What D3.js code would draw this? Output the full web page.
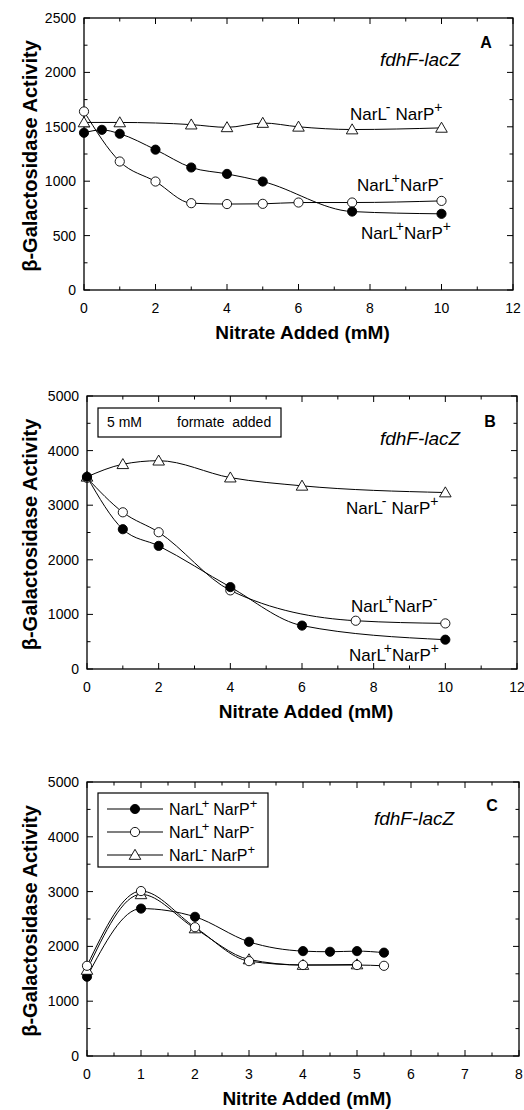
<!DOCTYPE html>
<html>
<head>
<meta charset="utf-8">
<script src="https://cdn.jsdelivr.net/npm/d3@7"></script>
<style>
  body { margin: 0; background: #fff; }
  svg { display: block; font-family: "Liberation Sans", Arial, sans-serif; }
</style>
</head>
<body>
<svg id="chart" width="524" height="1110"></svg>
<script>
// ---- panel A: nitrate, no formate ----
const aTriX = [0, 1, 3, 4, 5, 6, 7.5, 10];
const aTriY = [1540, 1540, 1520, 1495, 1535, 1500, 1475, 1490];
const aFillX = [0, 0.5, 1, 2, 3, 4, 5, 7.5, 10];
const aFillY = [1445, 1472, 1436, 1290, 1126, 1067, 997, 721, 700];
const aOpenX = [0, 1, 2, 3, 4, 5, 6, 7.5, 10];
const aOpenY = [1641, 1181, 997, 798, 790, 792, 804, 804, 819];

// ---- panel B: nitrate + 5 mM formate ----
const bTriX = [0, 1, 2, 4, 6, 10];
const bTriY = [3520, 3750, 3815, 3505, 3355, 3232];
const bOpenX = [0, 1, 2, 4, 7.5, 10];
const bOpenY = [3500, 2870, 2505, 1440, 884, 835];
const bFillX = [0, 1, 2, 4, 6, 10];
const bFillY = [3520, 2560, 2255, 1500, 795, 537];

// ---- panel C: nitrite ----
const cFillX = [0, 1, 2, 3, 4, 4.5, 5, 5.5];
const cFillY = [1446, 2690, 2540, 2084, 1914, 1902, 1914, 1886];
const cOpenX = [0, 1, 2, 3, 4, 5, 5.5];
const cOpenY = [1646, 3010, 2350, 1731, 1660, 1660, 1646];
const cTriX = [0, 1, 2, 3, 4, 5];
const cTriY = [1570, 2950, 2327, 1762, 1660, 1670];

const aXTicks = [0, 2, 4, 6, 8, 10, 12];
const aYTicks = [0, 500, 1000, 1500, 2000, 2500];
const bXTicks = [0, 2, 4, 6, 8, 10, 12];
const bYTicks = [0, 1000, 2000, 3000, 4000, 5000];
const cXTicks = [0, 1, 2, 3, 4, 5, 6, 7, 8];
const cYTicks = [0, 1000, 2000, 3000, 4000, 5000];

const svg = d3.select("#chart");

function zip(xs, ys) { return xs.map((x, i) => ({ x, y: ys[i] })); }

// text like NarL+ NarP- with raised signs
function strainLabel(sel, lSign, pSign, size, gap) {
  const supSize = Math.round(size * 0.8);
  sel.append("tspan").text("NarL");
  sel.append("tspan").attr("dy", -size * 0.45).attr("font-size", supSize)
    .attr("dx", lSign === "+" ? -2 : -1).text(lSign);
  sel.append("tspan").attr("dy", size * 0.45).attr("dx", gap).text("NarP");
  sel.append("tspan").attr("dy", -size * 0.45).attr("font-size", supSize).text(pSign);
}

function drawMarker(g, kind, px, py) {
  if (kind === "tri") {
    g.append("path")
      .attr("d", d3.symbol(d3.symbolTriangle, 58)())
      .attr("transform", `translate(${px},${py + 1})`)
      .attr("fill", "#fff").attr("stroke", "#000").attr("stroke-width", 0.9);
  } else {
    g.append("circle").attr("cx", px).attr("cy", py).attr("r", 4.6)
      .attr("fill", kind === "fill" ? "#000" : "#fff")
      .attr("stroke", "#000").attr("stroke-width", 0.9);
  }
}

function drawPanel(p) {
  const x = d3.scaleLinear().domain(p.xDomain).range([p.left, p.right]);
  const y = d3.scaleLinear().domain(p.yDomain).range([p.bottom, p.top]);
  const g = svg.append("g");

  // frame
  g.append("rect")
    .attr("x", p.left).attr("y", p.top)
    .attr("width", p.right - p.left).attr("height", p.bottom - p.top)
    .attr("fill", "none").attr("stroke", "#000").attr("stroke-width", 1.3);

  // inward ticks on all four sides
  const xMinor = d3.range(p.xDomain[0], p.xDomain[1] + 1e-9, p.xMinor);
  const yMinor = d3.range(p.yDomain[0], p.yDomain[1] + 1e-9, p.yMinor);
  const tk = g.append("g").attr("stroke", "#000").attr("stroke-width", 1);
  xMinor.forEach(v => {
    const len = p.xTicks.includes(v) ? 6 : 3.5;
    tk.append("line").attr("x1", x(v)).attr("x2", x(v)).attr("y1", p.bottom).attr("y2", p.bottom - len);
    tk.append("line").attr("x1", x(v)).attr("x2", x(v)).attr("y1", p.top).attr("y2", p.top + len);
  });
  yMinor.forEach(v => {
    const len = p.yTicks.includes(v) ? 6 : 3.5;
    tk.append("line").attr("y1", y(v)).attr("y2", y(v)).attr("x1", p.left).attr("x2", p.left + len);
    tk.append("line").attr("y1", y(v)).attr("y2", y(v)).attr("x1", p.right).attr("x2", p.right - len);
  });

  // tick labels
  g.selectAll(".xt").data(p.xTicks).enter().append("text")
    .attr("x", d => x(d)).attr("y", p.bottom + 23)
    .attr("text-anchor", "middle").attr("font-size", 14).text(d => d);
  g.selectAll(".yt").data(p.yTicks).enter().append("text")
    .attr("x", p.left - 8).attr("y", d => y(d) + 5)
    .attr("text-anchor", "end").attr("font-size", 14).text(d => d);

  // axis titles
  g.append("text")
    .attr("x", (p.left + p.right) / 2 + 4).attr("y", p.bottom + 49)
    .attr("text-anchor", "middle").attr("font-size", 19).attr("font-weight", "bold")
    .text(p.xTitle);
  g.append("text")
    .attr("transform", `translate(37,${(p.top + p.bottom) / 2 + 2}) rotate(-90)`)
    .attr("text-anchor", "middle").attr("font-size", 20).attr("font-weight", "bold")
    .text("β-Galactosidase Activity");

  // panel letter and construct
  g.append("text").attr("x", p.right - 27).attr("y", p.top + p.letterDy)
    .attr("text-anchor", "middle").attr("font-size", 16).attr("font-weight", "bold").text(p.letter);
  g.append("text").attr("x", p.constructX).attr("y", p.top + p.constructDy)
    .attr("text-anchor", "middle").attr("font-size", 19).attr("font-style", "italic").text("fdhF-lacZ");

  // series
  const line = d3.line().x(d => x(d.x)).y(d => y(d.y)).curve(d3.curveMonotoneX);
  p.series.forEach(s => {
    g.append("path").attr("d", line(s.data))
      .attr("fill", "none").attr("stroke", "#000").attr("stroke-width", 1);
  });
  p.series.forEach(s => {
    s.data.forEach(d => drawMarker(g, s.kind, x(d.x), y(d.y)));
  });

  // in-plot strain labels
  (p.labels || []).forEach(l => {
    const t = g.append("text").attr("x", l.x).attr("y", l.y).attr("font-size", 17);
    strainLabel(t, l.l, l.p, 17, l.gap);
  });

  return { g, x, y };
}

drawPanel({
  left: 84, right: 513, top: 18, bottom: 290,
  xDomain: [0, 12], yDomain: [0, 2500], xMinor: 1, yMinor: 250,
  xTicks: aXTicks, yTicks: aYTicks, xTitle: "Nitrate Added (mM)",
  letter: "A", letterDy: 30, constructX: 420, constructDy: 48,
  series: [
    { kind: "tri", data: zip(aTriX, aTriY) },
    { kind: "open", data: zip(aOpenX, aOpenY) },
    { kind: "fill", data: zip(aFillX, aFillY) }
  ],
  labels: [
    { x: 350, y: 120, l: "-", p: "+", gap: 5 },
    { x: 357, y: 191, l: "+", p: "-", gap: 0 },
    { x: 361, y: 239, l: "+", p: "+", gap: 0 }
  ]
});

const pb = drawPanel({
  left: 87, right: 517, top: 396, bottom: 669,
  xDomain: [0, 12], yDomain: [0, 5000], xMinor: 1, yMinor: 500,
  xTicks: bXTicks, yTicks: bYTicks, xTitle: "Nitrate Added (mM)",
  letter: "B", letterDy: 31, constructX: 420, constructDy: 49,
  series: [
    { kind: "tri", data: zip(bTriX, bTriY) },
    { kind: "open", data: zip(bOpenX, bOpenY) },
    { kind: "fill", data: zip(bFillX, bFillY) }
  ],
  labels: [
    { x: 346, y: 514, l: "-", p: "+", gap: 5 },
    { x: 351, y: 612, l: "+", p: "-", gap: 0 },
    { x: 349, y: 661, l: "+", p: "+", gap: 0 }
  ]
});
// formate note box
pb.g.append("rect").attr("x", 98).attr("y", 408).attr("width", 183).attr("height", 29)
  .attr("fill", "#fff").attr("stroke", "#000").attr("stroke-width", 1.2);
pb.g.append("text").attr("x", 107).attr("y", 427).attr("font-size", 14).text("5  mM");
pb.g.append("text").attr("x", 177).attr("y", 427).attr("font-size", 14)
  .attr("xml:space", "preserve").text("formate  added");

const pc = drawPanel({
  left: 87, right: 519, top: 782, bottom: 1056,
  xDomain: [0, 8], yDomain: [0, 5000], xMinor: 0.5, yMinor: 500,
  xTicks: cXTicks, yTicks: cYTicks, xTitle: "Nitrite Added (mM)",
  letter: "C", letterDy: 29, constructX: 414, constructDy: 43,
  series: [
    { kind: "fill", data: zip(cFillX, cFillY) },
    { kind: "tri", data: zip(cTriX, cTriY) },
    { kind: "open", data: zip(cOpenX, cOpenY) }
  ]
});
// legend for C
const legendItems = [
  { kind: "fill", l: "+", p: "+" },
  { kind: "open", l: "+", p: "-" },
  { kind: "tri", l: "-", p: "+" }
];
pc.g.append("rect").attr("x", 98).attr("y", 793).attr("width", 170).attr("height", 74)
  .attr("fill", "#fff").attr("stroke", "#000").attr("stroke-width", 1.2);
legendItems.forEach((it, i) => {
  const ly = 809 + i * 23;
  pc.g.append("line").attr("x1", 107).attr("x2", 163).attr("y1", ly).attr("y2", ly)
    .attr("stroke", "#000").attr("stroke-width", 1.2);
  drawMarker(pc.g, it.kind, 135, ly);
  const t = pc.g.append("text").attr("x", 169).attr("y", ly + 6).attr("font-size", 16);
  strainLabel(t, it.l, it.p, 16, 4);
});
</script>
</body>
</html>
